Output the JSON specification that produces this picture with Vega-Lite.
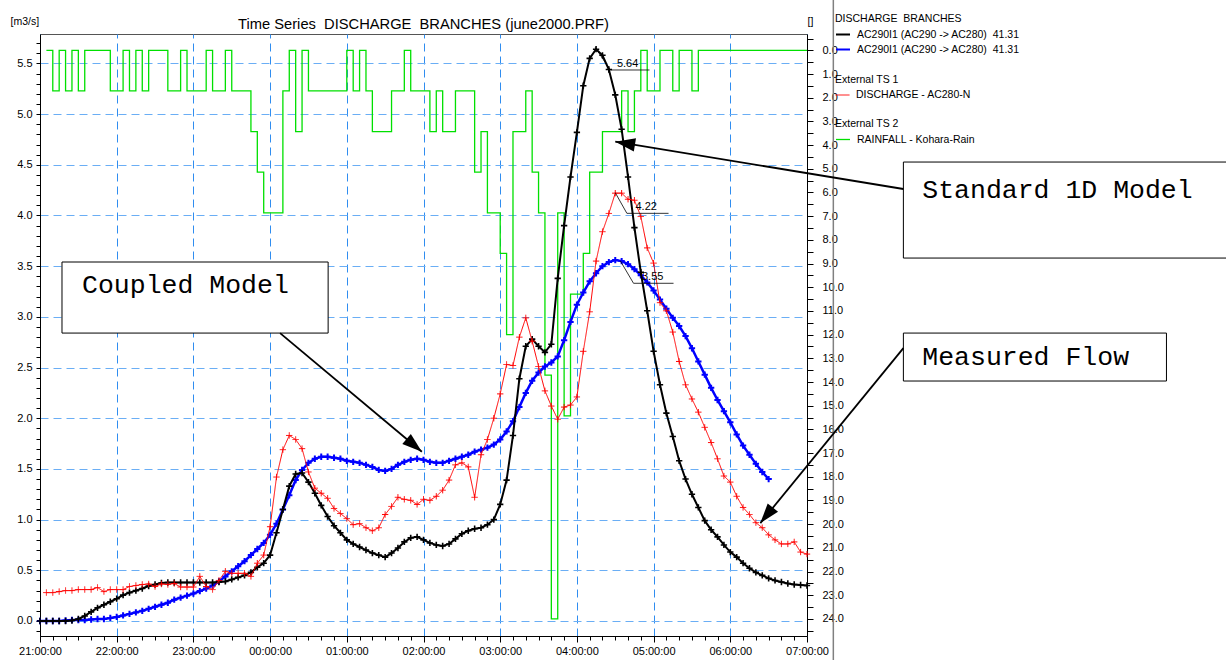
{
  "$schema": "https://vega.github.io/schema/vega-lite/v6.json",
  "width": 767,
  "height": 602,
  "autosize": {"type": "none"},
  "padding": {"left": 40, "top": 34, "right": 419, "bottom": 24},
  "background": "white",
  "config": {
    "font": "Liberation Sans",
    "view": {"stroke": "#555555", "strokeWidth": 1},
    "axis": {"labelFont": "Liberation Sans", "labelFontSize": 11, "labelColor": "#000000", "domainColor": "#000000", "tickColor": "#000000", "titleFont": "Liberation Sans", "titleFontWeight": "normal", "titleColor": "#000000", "labelOverlap": false}
  },
  "title": {"text": "Time Series\u00a0 DISCHARGE\u00a0 BRANCHES (june2000.PRF)", "fontSize": 14.7, "fontWeight": "normal", "font": "Liberation Sans", "frame": "group", "anchor": "middle", "offset": 4, "dy": 37, "color": "#000000"},
  "datasets": {
    "black": [
      {"t":0,"v":0},{"t":5,"v":0},{"t":10,"v":0},{"t":15,"v":0},{"t":20,"v":0},{"t":25,"v":0.005},{"t":30,"v":0.02},{"t":35,"v":0.05},{"t":40,"v":0.09},{"t":45,"v":0.13},{"t":50,"v":0.16},{"t":55,"v":0.19},{"t":60,"v":0.22},{"t":65,"v":0.255},{"t":70,"v":0.28},{"t":75,"v":0.3},{"t":80,"v":0.32},{"t":85,"v":0.345},{"t":90,"v":0.36},{"t":95,"v":0.375},{"t":100,"v":0.38},{"t":105,"v":0.38},{"t":110,"v":0.38},{"t":115,"v":0.38},{"t":120,"v":0.38},{"t":125,"v":0.38},{"t":130,"v":0.38},{"t":135,"v":0.38},{"t":140,"v":0.385},{"t":145,"v":0.39},{"t":150,"v":0.41},{"t":155,"v":0.43},{"t":160,"v":0.45},{"t":165,"v":0.48},{"t":170,"v":0.53},{"t":175,"v":0.57},{"t":180,"v":0.65},{"t":185,"v":0.87},{"t":190,"v":1.1},{"t":195,"v":1.33},{"t":200,"v":1.45},{"t":205,"v":1.46},{"t":210,"v":1.37},{"t":215,"v":1.26},{"t":220,"v":1.14},{"t":225,"v":1.03},{"t":230,"v":0.94},{"t":235,"v":0.87},{"t":240,"v":0.8},{"t":245,"v":0.76},{"t":250,"v":0.73},{"t":255,"v":0.7},{"t":260,"v":0.67},{"t":265,"v":0.65},{"t":270,"v":0.63},{"t":275,"v":0.67},{"t":280,"v":0.72},{"t":285,"v":0.78},{"t":290,"v":0.82},{"t":295,"v":0.83},{"t":300,"v":0.8},{"t":305,"v":0.77},{"t":310,"v":0.75},{"t":315,"v":0.74},{"t":320,"v":0.76},{"t":325,"v":0.81},{"t":330,"v":0.86},{"t":335,"v":0.89},{"t":340,"v":0.91},{"t":345,"v":0.92},{"t":350,"v":0.95},{"t":355,"v":1.0},{"t":360,"v":1.15},{"t":365,"v":1.39},{"t":370,"v":1.83},{"t":375,"v":2.39},{"t":380,"v":2.71},{"t":385,"v":2.78},{"t":390,"v":2.71},{"t":395,"v":2.65},{"t":400,"v":2.73},{"t":405,"v":3.38},{"t":410,"v":3.9},{"t":415,"v":4.38},{"t":420,"v":4.82},{"t":425,"v":5.28},{"t":430,"v":5.55},{"t":435,"v":5.64},{"t":440,"v":5.58},{"t":445,"v":5.44},{"t":450,"v":5.19},{"t":455,"v":4.85},{"t":460,"v":4.38},{"t":465,"v":3.88},{"t":470,"v":3.44},{"t":475,"v":3.06},{"t":480,"v":2.66},{"t":485,"v":2.33},{"t":490,"v":2.05},{"t":495,"v":1.82},{"t":500,"v":1.58},{"t":505,"v":1.4},{"t":510,"v":1.25},{"t":515,"v":1.12},{"t":520,"v":0.99},{"t":525,"v":0.9},{"t":530,"v":0.83},{"t":535,"v":0.75},{"t":540,"v":0.68},{"t":545,"v":0.63},{"t":550,"v":0.57},{"t":555,"v":0.52},{"t":560,"v":0.48},{"t":565,"v":0.45},{"t":570,"v":0.42},{"t":575,"v":0.4},{"t":580,"v":0.385},{"t":585,"v":0.37},{"t":590,"v":0.36},{"t":595,"v":0.355},{"t":600,"v":0.35}
    ],
    "blue": [
      {"t":0,"v":0},{"t":5,"v":0},{"t":10,"v":0},{"t":15,"v":0},{"t":20,"v":0.005},{"t":25,"v":0.01},{"t":30,"v":0.01},{"t":35,"v":0.01},{"t":40,"v":0.015},{"t":45,"v":0.02},{"t":50,"v":0.02},{"t":55,"v":0.03},{"t":60,"v":0.04},{"t":65,"v":0.055},{"t":70,"v":0.07},{"t":75,"v":0.085},{"t":80,"v":0.1},{"t":85,"v":0.12},{"t":90,"v":0.14},{"t":95,"v":0.16},{"t":100,"v":0.18},{"t":105,"v":0.21},{"t":110,"v":0.23},{"t":115,"v":0.25},{"t":120,"v":0.27},{"t":125,"v":0.295},{"t":130,"v":0.32},{"t":135,"v":0.35},{"t":140,"v":0.39},{"t":145,"v":0.44},{"t":150,"v":0.49},{"t":155,"v":0.54},{"t":160,"v":0.59},{"t":165,"v":0.65},{"t":170,"v":0.71},{"t":175,"v":0.77},{"t":180,"v":0.85},{"t":185,"v":0.96},{"t":190,"v":1.1},{"t":195,"v":1.24},{"t":200,"v":1.39},{"t":205,"v":1.49},{"t":210,"v":1.56},{"t":215,"v":1.6},{"t":220,"v":1.62},{"t":225,"v":1.62},{"t":230,"v":1.61},{"t":235,"v":1.6},{"t":240,"v":1.58},{"t":245,"v":1.57},{"t":250,"v":1.56},{"t":255,"v":1.54},{"t":260,"v":1.52},{"t":265,"v":1.49},{"t":270,"v":1.48},{"t":275,"v":1.5},{"t":280,"v":1.54},{"t":285,"v":1.57},{"t":290,"v":1.59},{"t":295,"v":1.6},{"t":300,"v":1.59},{"t":305,"v":1.57},{"t":310,"v":1.56},{"t":315,"v":1.56},{"t":320,"v":1.58},{"t":325,"v":1.6},{"t":330,"v":1.62},{"t":335,"v":1.64},{"t":340,"v":1.67},{"t":345,"v":1.69},{"t":350,"v":1.71},{"t":355,"v":1.74},{"t":360,"v":1.79},{"t":365,"v":1.87},{"t":370,"v":1.97},{"t":375,"v":2.11},{"t":380,"v":2.25},{"t":385,"v":2.37},{"t":390,"v":2.45},{"t":395,"v":2.51},{"t":400,"v":2.55},{"t":405,"v":2.61},{"t":410,"v":2.77},{"t":415,"v":2.95},{"t":420,"v":3.12},{"t":425,"v":3.24},{"t":430,"v":3.35},{"t":435,"v":3.43},{"t":440,"v":3.5},{"t":445,"v":3.54},{"t":450,"v":3.56},{"t":455,"v":3.55},{"t":460,"v":3.52},{"t":465,"v":3.47},{"t":470,"v":3.41},{"t":475,"v":3.34},{"t":480,"v":3.26},{"t":485,"v":3.17},{"t":490,"v":3.08},{"t":495,"v":2.99},{"t":500,"v":2.91},{"t":505,"v":2.81},{"t":510,"v":2.69},{"t":515,"v":2.56},{"t":520,"v":2.43},{"t":525,"v":2.3},{"t":530,"v":2.18},{"t":535,"v":2.07},{"t":540,"v":1.96},{"t":545,"v":1.84},{"t":550,"v":1.73},{"t":555,"v":1.64},{"t":560,"v":1.55},{"t":565,"v":1.47},{"t":570,"v":1.4}
    ],
    "red": [
      {"t":5,"v":0.28},{"t":10,"v":0.28},{"t":15,"v":0.29},{"t":20,"v":0.3},{"t":25,"v":0.3},{"t":30,"v":0.31},{"t":35,"v":0.31},{"t":40,"v":0.31},{"t":45,"v":0.33},{"t":50,"v":0.29},{"t":55,"v":0.31},{"t":60,"v":0.31},{"t":65,"v":0.31},{"t":70,"v":0.34},{"t":75,"v":0.35},{"t":80,"v":0.36},{"t":85,"v":0.365},{"t":90,"v":0.34},{"t":95,"v":0.365},{"t":100,"v":0.36},{"t":105,"v":0.37},{"t":110,"v":0.335},{"t":115,"v":0.335},{"t":120,"v":0.335},{"t":125,"v":0.44},{"t":130,"v":0.34},{"t":135,"v":0.31},{"t":140,"v":0.4},{"t":145,"v":0.49},{"t":150,"v":0.47},{"t":155,"v":0.47},{"t":160,"v":0.47},{"t":165,"v":0.44},{"t":170,"v":0.57},{"t":175,"v":0.65},{"t":180,"v":0.93},{"t":185,"v":1.42},{"t":190,"v":1.69},{"t":195,"v":1.83},{"t":200,"v":1.79},{"t":205,"v":1.7},{"t":210,"v":1.47},{"t":215,"v":1.31},{"t":220,"v":1.26},{"t":225,"v":1.21},{"t":230,"v":1.11},{"t":235,"v":1.06},{"t":240,"v":1.01},{"t":245,"v":0.95},{"t":250,"v":0.96},{"t":255,"v":0.92},{"t":260,"v":0.89},{"t":265,"v":0.92},{"t":270,"v":1.05},{"t":275,"v":1.13},{"t":280,"v":1.22},{"t":285,"v":1.2},{"t":290,"v":1.19},{"t":295,"v":1.15},{"t":300,"v":1.2},{"t":305,"v":1.19},{"t":310,"v":1.23},{"t":315,"v":1.29},{"t":320,"v":1.39},{"t":325,"v":1.54},{"t":330,"v":1.56},{"t":335,"v":1.52},{"t":340,"v":1.22},{"t":345,"v":1.64},{"t":350,"v":1.79},{"t":355,"v":2.0},{"t":360,"v":2.24},{"t":365,"v":2.53},{"t":370,"v":2.52},{"t":375,"v":2.8},{"t":380,"v":2.99},{"t":385,"v":2.76},{"t":390,"v":2.51},{"t":395,"v":2.27},{"t":400,"v":2.12},{"t":405,"v":1.99},{"t":410,"v":2.11},{"t":415,"v":2.13},{"t":420,"v":2.21},{"t":425,"v":2.66},{"t":430,"v":3.05},{"t":435,"v":3.55},{"t":440,"v":3.84},{"t":445,"v":4.02},{"t":450,"v":4.22},{"t":455,"v":4.22},{"t":460,"v":4.16},{"t":465,"v":4.15},{"t":470,"v":3.99},{"t":475,"v":3.68},{"t":480,"v":3.53},{"t":485,"v":3.14},{"t":490,"v":3.06},{"t":495,"v":2.85},{"t":500,"v":2.56},{"t":505,"v":2.33},{"t":510,"v":2.19},{"t":515,"v":2.06},{"t":520,"v":1.91},{"t":525,"v":1.76},{"t":530,"v":1.6},{"t":535,"v":1.43},{"t":540,"v":1.37},{"t":545,"v":1.23},{"t":550,"v":1.12},{"t":555,"v":1.05},{"t":560,"v":0.97},{"t":565,"v":0.92},{"t":570,"v":0.85},{"t":575,"v":0.8},{"t":580,"v":0.76},{"t":585,"v":0.76},{"t":590,"v":0.78},{"t":595,"v":0.68},{"t":600,"v":0.66}
    ],
    "rain": [
      {"t":5,"rain":0},{"t":10,"rain":1.71},{"t":15,"rain":0},{"t":20,"rain":1.71},{"t":25,"rain":0},{"t":30,"rain":1.71},{"t":35,"rain":0},{"t":40,"rain":0},{"t":45,"rain":0},{"t":50,"rain":0},{"t":55,"rain":1.71},{"t":60,"rain":1.71},{"t":65,"rain":0},{"t":70,"rain":1.71},{"t":75,"rain":0},{"t":80,"rain":1.71},{"t":85,"rain":0},{"t":90,"rain":0},{"t":95,"rain":0},{"t":100,"rain":1.71},{"t":105,"rain":1.71},{"t":110,"rain":0},{"t":115,"rain":1.71},{"t":120,"rain":1.71},{"t":125,"rain":1.71},{"t":130,"rain":0},{"t":135,"rain":1.71},{"t":140,"rain":1.71},{"t":145,"rain":0},{"t":150,"rain":1.71},{"t":155,"rain":1.71},{"t":160,"rain":1.71},{"t":165,"rain":3.43},{"t":170,"rain":5.14},{"t":175,"rain":6.86},{"t":180,"rain":6.86},{"t":185,"rain":6.86},{"t":190,"rain":1.71},{"t":195,"rain":0},{"t":200,"rain":3.43},{"t":205,"rain":0},{"t":210,"rain":1.71},{"t":215,"rain":1.71},{"t":220,"rain":1.71},{"t":225,"rain":1.71},{"t":230,"rain":1.71},{"t":235,"rain":1.71},{"t":240,"rain":0},{"t":245,"rain":1.71},{"t":250,"rain":0},{"t":255,"rain":1.71},{"t":260,"rain":3.43},{"t":265,"rain":3.43},{"t":270,"rain":3.43},{"t":275,"rain":1.71},{"t":280,"rain":1.71},{"t":285,"rain":0},{"t":290,"rain":1.71},{"t":295,"rain":1.71},{"t":300,"rain":1.71},{"t":305,"rain":3.43},{"t":310,"rain":1.71},{"t":315,"rain":3.43},{"t":320,"rain":3.43},{"t":325,"rain":1.71},{"t":330,"rain":1.71},{"t":335,"rain":1.71},{"t":340,"rain":5.14},{"t":345,"rain":3.43},{"t":350,"rain":6.86},{"t":355,"rain":6.86},{"t":360,"rain":8.57},{"t":365,"rain":12.0},{"t":370,"rain":3.43},{"t":375,"rain":3.43},{"t":380,"rain":1.71},{"t":385,"rain":5.14},{"t":390,"rain":6.86},{"t":395,"rain":13.71},{"t":400,"rain":24.0},{"t":405,"rain":6.86},{"t":410,"rain":15.43},{"t":415,"rain":10.29},{"t":420,"rain":10.29},{"t":425,"rain":8.57},{"t":430,"rain":5.14},{"t":435,"rain":5.14},{"t":440,"rain":3.43},{"t":445,"rain":3.43},{"t":450,"rain":3.43},{"t":455,"rain":1.71},{"t":460,"rain":3.43},{"t":465,"rain":1.71},{"t":470,"rain":0},{"t":475,"rain":1.71},{"t":480,"rain":1.71},{"t":485,"rain":0},{"t":490,"rain":0},{"t":495,"rain":1.71},{"t":500,"rain":0},{"t":505,"rain":0},{"t":510,"rain":1.71},{"t":515,"rain":0},{"t":520,"rain":0},{"t":525,"rain":0},{"t":530,"rain":0},{"t":535,"rain":0},{"t":540,"rain":0},{"t":545,"rain":0},{"t":550,"rain":0},{"t":555,"rain":0},{"t":560,"rain":0},{"t":565,"rain":0},{"t":570,"rain":0},{"t":575,"rain":0},{"t":580,"rain":0},{"t":585,"rain":0},{"t":590,"rain":0},{"t":595,"rain":0},{"t":600,"rain":0}
    ],
    "boxes": [
      {"t":675.4,"t2":931.3,"v":4.527,"v2":3.58},
      {"t":17.2,"t2":225.4,"v":3.541,"v2":2.84},
      {"t":675.4,"t2":881.2,"v":2.84,"v2":2.367}
    ],
    "boxtext": [
      {"label":"Standard 1D Model","t":690.2,"v":4.252},
      {"label":"Coupled Model","t":32.9,"v":3.314},
      {"label":"Measured Flow","t":690.2,"v":2.604}
    ],
    "arrows": [
      {"t":675.4,"v":4.261,"t2":450.0,"v2":4.728},
      {"t":187.8,"v":2.84,"t2":298.7,"v2":1.669},
      {"t":675.4,"v":2.692,"t2":563.5,"v2":0.966}
    ],
    "heads": [
      {"t":450.0,"v":4.728,"ang":279.3},
      {"t":298.7,"v":1.669,"ang":130},
      {"t":563.5,"v":0.966,"ang":219}
    ],
    "leaders": [
      {"id":"a","o":1,"t":434.3,"v":5.659},{"id":"a","o":2,"t":446.1,"v":5.435},{"id":"a","o":3,"t":476.8,"v":5.435},
      {"id":"b","o":1,"t":450.0,"v":4.225},{"id":"b","o":2,"t":459.1,"v":4.021},{"id":"b","o":3,"t":491.7,"v":4.021},
      {"id":"c","o":1,"t":453.9,"v":3.554},{"id":"c","o":2,"t":464.3,"v":3.331},{"id":"c","o":3,"t":495.6,"v":3.331}
    ],
    "peaks": [
      {"label":"5.64","t":459.7,"v":5.494},
      {"label":"4.22","t":474.2,"v":4.079},
      {"label":"3.55","t":479.3,"v":3.393}
    ],
    "sep": [
      {"t":620.6,"v":6.13,"v2":-0.39}
    ]
  },
  "encoding": {
    "x": {
      "field": "t", "type": "quantitative",
      "scale": {"domain": [0, 600], "nice": false, "zero": false},
      "axis": {
        "orient": "bottom",
        "values": [0,10,20,30,40,50,60,70,80,90,100,110,120,130,140,150,160,170,180,190,200,210,220,230,240,250,260,270,280,290,300,310,320,330,340,350,360,370,380,390,400,410,420,430,440,450,460,470,480,490,500,510,520,530,540,550,560,570,580,590,600],
        "labelExpr": "datum.value % 60 == 0 ? ((floor((21 + datum.value / 60) % 24) < 10 ? '0' : '') + floor((21 + datum.value / 60) % 24) + ':00:00') : ''",
        "labelFlush": false,
        "tickSize": {"condition": {"test": "datum.value % 60 == 0", "value": 6}, "value": 4},
        "labelPadding": 3,
        "grid": true,
        "gridDash": [8, 5],
        "gridColor": "#2f8df0",
        "gridWidth": 1,
        "gridOpacity": {"condition": {"test": "datum.value % 60 == 0", "value": 1}, "value": 0},
        "title": null
      }
    }
  },
  "layer": [
    {
      "data": {"name": "rain"},
      "mark": {"type": "line", "interpolate": "step-after", "color": "#00e000"},
      "encoding": {
        "y": {
          "field": "rain", "type": "quantitative",
          "scale": {"domain": [-0.69, 24.72], "reverse": true, "nice": false, "zero": false},
          "axis": {
            "orient": "right",
            "values": [-0.5,0,0.5,1,1.5,2,2.5,3,3.5,4,4.5,5,5.5,6,6.5,7,7.5,8,8.5,9,9.5,10,10.5,11,11.5,12,12.5,13,13.5,14,14.5,15,15.5,16,16.5,17,17.5,18,18.5,19,19.5,20,20.5,21,21.5,22,22.5,23,23.5,24,24.5],
            "labelExpr": "datum.value % 1 == 0 ? format(datum.value, '.1f') : ''",
            "tickSize": 6,
            "labelPadding": 9,
            "grid": false,
            "title": "[]",
            "titleAngle": 0,
            "titleX": 0,
            "titleY": -13,
            "titleAlign": "left",
            "titleBaseline": "middle",
            "titleFontSize": 10.5
          }
        },
        "strokeWidth": {
          "datum": "RAINFALL - Kohara-Rain", "type": "ordinal",
          "scale": {"range": [1.3, 1.3]},
          "legend": {"title": "External TS 2", "orient": "none", "legendX": 795, "legendY": 85, "symbolType": "stroke", "symbolSize": 196, "symbolStrokeColor": "#00e000", "labelFontSize": 10.5, "labelLimit": 300, "titleFontSize": 10.5, "titleFontWeight": "normal", "titlePadding": 2, "labelOffset": 6}
        }
      }
    },
    {
      "encoding": {
        "y": {
          "field": "v", "type": "quantitative",
          "scale": {"domain": [-0.148, 5.79], "nice": false, "zero": false},
          "axis": {
            "orient": "left",
            "values": [-0.1,0,0.1,0.2,0.3,0.4,0.5,0.6,0.7,0.8,0.9,1,1.1,1.2,1.3,1.4,1.5,1.6,1.7,1.8,1.9,2,2.1,2.2,2.3,2.4,2.5,2.6,2.7,2.8,2.9,3,3.1,3.2,3.3,3.4,3.5,3.6,3.7,3.8,3.9,4,4.1,4.2,4.3,4.4,4.5,4.6,4.7,4.8,4.9,5,5.1,5.2,5.3,5.4,5.5,5.6,5.7],
            "labelExpr": "round(datum.value * 10) % 5 == 0 ? format(datum.value, '.1f') : ''",
            "tickSize": 4,
            "labelPadding": 4,
            "grid": true,
            "gridDash": [8, 5],
            "gridColor": "#6aaef5",
            "gridWidth": 1,
            "gridOpacity": {"condition": {"test": "round(datum.value * 10) % 5 == 0", "value": 1}, "value": 0},
            "title": "[m3/s]",
            "titleAngle": 0,
            "titleX": -30,
            "titleY": -13,
            "titleAlign": "left",
            "titleBaseline": "middle",
            "titleFontSize": 10.5
          }
        }
      },
      "layer": [
        {
          "data": {"name": "blue"},
          "mark": {"type": "line", "strokeWidth": 2.5, "point": {"shape": "M-1,0L1,0M0,-1L0,1", "filled": false, "size": 40, "strokeWidth": 2, "color": "#0000ff"}},
          "encoding": {"color": {"datum": "Coupled Model", "type": "nominal"}}
        },
        {
          "data": {"name": "black"},
          "mark": {"type": "line", "strokeWidth": 2, "point": {"shape": "M-1,0L1,0M0,-1L0,1", "filled": false, "size": 40, "strokeWidth": 1.6, "color": "#000000"}},
          "encoding": {
            "color": {
              "datum": "Standard 1D Model", "type": "nominal",
              "scale": {"domain": ["Standard 1D Model", "Coupled Model"], "range": ["#000000", "#0000ff"]},
              "legend": {"title": "DISCHARGE\u00a0 BRANCHES", "orient": "none", "legendX": 795, "legendY": -20, "symbolType": "stroke", "symbolSize": 196, "symbolStrokeWidth": 2, "labelExpr": "'AC290I1 (AC290 -> AC280)\u00a0 41.31'", "labelFontSize": 10.5, "labelLimit": 300, "titleFontSize": 10.5, "titleFontWeight": "normal", "titlePadding": 2, "rowPadding": 1, "labelOffset": 6}
            }
          }
        },
        {
          "data": {"name": "red"},
          "mark": {"type": "line", "color": "#ff0000", "strokeWidth": 1, "point": {"shape": "M-1,0L1,0M0,-1L0,1", "filled": false, "size": 40, "strokeWidth": 1, "color": "#ff0000", "stroke": "#ff0000"}},
          "encoding": {
            "strokeDash": {
              "datum": "DISCHARGE - AC280-N", "type": "nominal",
              "scale": {"range": [[1, 0]]},
              "legend": {"title": "External TS 1", "orient": "none", "legendX": 795, "legendY": 41, "symbolType": "stroke", "symbolSize": 196, "symbolStrokeColor": "#ff0000", "symbolStrokeWidth": 1, "labelFontSize": 10.5, "labelLimit": 300, "titleFontSize": 10.5, "titleFontWeight": "normal", "titlePadding": 2, "labelOffset": 6}
            }
          }
        },
        {
          "data": {"name": "sep"},
          "mark": {"type": "rule", "color": "#808080", "strokeWidth": 1.5},
          "encoding": {"y2": {"field": "v2"}}
        },
        {
          "data": {"name": "boxes"},
          "mark": {"type": "rect", "fill": "#ffffff", "stroke": "#000000", "strokeWidth": 1},
          "encoding": {"x2": {"field": "t2"}, "y2": {"field": "v2"}}
        },
        {
          "data": {"name": "boxtext"},
          "mark": {"type": "text", "font": "Liberation Mono", "fontSize": 26.5, "align": "left", "baseline": "middle", "color": "#000000"},
          "encoding": {"text": {"field": "label"}}
        },
        {
          "data": {"name": "arrows"},
          "mark": {"type": "rule", "color": "#000000", "strokeWidth": 1.8},
          "encoding": {"x2": {"field": "t2"}, "y2": {"field": "v2"}}
        },
        {
          "data": {"name": "heads"},
          "mark": {"type": "point", "shape": "M0,0L0.6,1.8L-0.6,1.8Z", "filled": true, "color": "#000000", "opacity": 1, "size": 490},
          "encoding": {"angle": {"field": "ang", "type": "quantitative", "scale": null}}
        },
        {
          "data": {"name": "leaders"},
          "mark": {"type": "line", "color": "#000000", "strokeWidth": 0.8},
          "encoding": {"detail": {"field": "id"}, "order": {"field": "o"}}
        },
        {
          "data": {"name": "peaks"},
          "mark": {"type": "text", "fontSize": 11, "align": "center", "baseline": "middle", "color": "#000000"},
          "encoding": {"text": {"field": "label"}}
        }
      ]
    }
  ],
  "resolve": {"scale": {"y": "independent"}, "axis": {"y": "independent"}}
}
